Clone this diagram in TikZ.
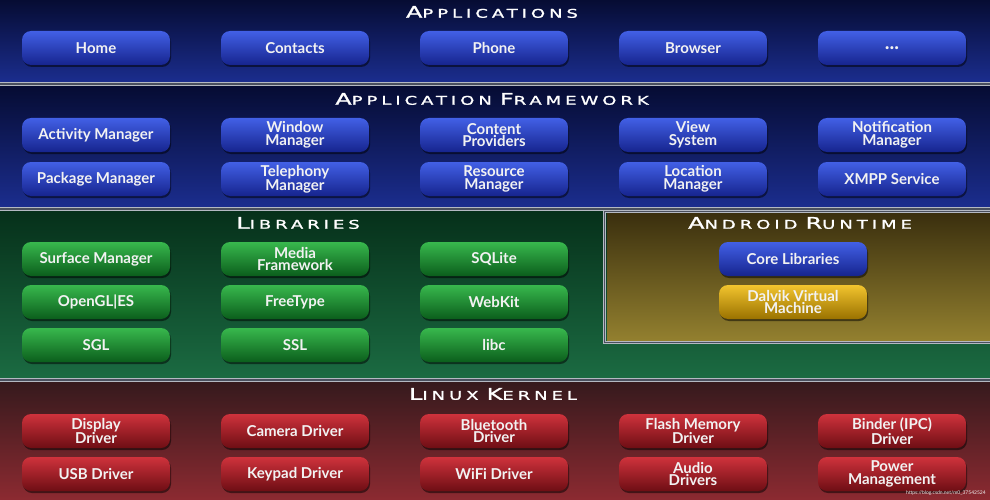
\documentclass[tikz,border=0pt]{standalone}
\usepackage{fontspec}
\setmainfont{Lato}
\newfontfamily\btnfont{Lato Bold}
\newfontfamily\ttlfont{DejaVu Sans}[FakeBold=1.4, FakeStretch=1.5, LetterSpace=33]
\usetikzlibrary{shadows}
\definecolor{appTop}{HTML}{060C33}
\definecolor{appBot}{HTML}{1B2D8E}
\definecolor{libTop}{HTML}{06301A}
\definecolor{libBot}{HTML}{1B6B42}
\definecolor{rtTop}{HTML}{3A2F0E}
\definecolor{rtBot}{HTML}{93802F}
\definecolor{kerTop}{HTML}{361A1D}
\definecolor{kerBot}{HTML}{8C2A31}
\definecolor{sepLight}{HTML}{B4B9C2}
\definecolor{sepDark}{HTML}{4A505E}
\definecolor{bTop}{HTML}{4260E6}
\definecolor{bBot}{HTML}{16248E}
\definecolor{gTop}{HTML}{38B84D}
\definecolor{gBot}{HTML}{0B5E1C}
\definecolor{rTop}{HTML}{CF323C}
\definecolor{rBot}{HTML}{6E0E14}
\definecolor{yTop}{HTML}{F2C42E}
\definecolor{yBot}{HTML}{9A7200}
\definecolor{txt}{HTML}{F2F2F2}
\newcommand{\ttl}[2]{{\fontsize{16}{16}\selectfont #1}{\fontsize{12}{16}\selectfont #2}}
\tikzset{
  btn/.style={minimum width=148pt, minimum height=34pt, inner sep=0pt,
    rounded corners=9pt, align=center, text=txt,
    font=\btnfont\fontsize{15}{12.8}\selectfont,
    drop shadow={shadow xshift=1pt, shadow yshift=-2pt, opacity=0.5, fill=black}},
  blue/.style={btn, top color=bTop, bottom color=bBot},
  green/.style={btn, top color=gTop, bottom color=gBot},
  red/.style={btn, top color=rTop, bottom color=rBot},
  gold/.style={btn, top color=yTop, bottom color=yBot},
  title/.style={text=white, inner sep=0pt, font=\ttlfont},
  sepband/.style={fill=sepDark, draw=sepLight, line width=0.9pt},
}
\begin{document}
\begin{tikzpicture}[x=1pt,y=-1pt]
\useasboundingbox (0,0) rectangle (990,500);
% layers
\shade[top color=appTop, bottom color=appBot] (0,0) rectangle (990,82);
\shade[top color=appTop, bottom color=appBot] (0,86) rectangle (990,207);
\shade[top color=libTop, bottom color=libBot] (0,211) rectangle (990,378);
\shade[top color=kerTop, bottom color=kerBot] (0,382) rectangle (990,500);
\draw[sepband] (-2,82.4) rectangle (992,85.6);
\draw[sepband] (-2,207.4) rectangle (992,210.6);
\draw[sepband] (-2,378.4) rectangle (992,381.6);
% runtime box
\draw[draw=sepLight, line width=3pt] (604.5,211) rectangle (992,342.5);
\draw[draw=sepDark, line width=0.9pt] (604.5,211) rectangle (992,342.5);
\shade[top color=rtTop, bottom color=rtBot] (607,213) rectangle (990,340.5);
% titles
\node[title] (tApp) at (492,12) {\ttl{A}{PPLICATIONS}};
\node[title] (tFw) at (492,99) {\ttl{A}{PPLICATION} \ttl{F}{RAMEWORK}};
\node[title] (tLib) at (298,223) {\ttl{L}{IBRARIES}};
\node[title] (tRt) at (800,223) {\ttl{A}{NDROID} \ttl{R}{UNTIME}};
\node[title] (tKer) at (493,394) {\ttl{L}{INUX} \ttl{K}{ERNEL}};
% applications
\node[blue] (home) at (96,48) {Home};
\node[blue] (contacts) at (295,48) {Contacts};
\node[blue] (phone) at (494,48) {Phone};
\node[blue] (browser) at (693,48) {Browser};
\node[blue, font=\btnfont\fontsize{20}{20}\selectfont] (more) at (892,48) {\raisebox{-4pt}{...}};
% framework
\node[blue] (am) at (96,135) {Activity Manager};
\node[blue] (wm) at (295,135) {Window\\Manager};
\node[blue] (cp) at (494,135) {Content\\Providers};
\node[blue] (vs) at (693,135) {View\\System};
\node[blue] (nm) at (892,135) {Notification\\Manager};
\node[blue] (pm) at (96,179) {Package Manager};
\node[blue] (tm) at (295,179) {Telephony\\Manager};
\node[blue] (rm) at (494,179) {Resource\\Manager};
\node[blue] (lm) at (693,179) {Location\\Manager};
\node[blue] (xmpp) at (892,179) {XMPP Service};
% libraries
\node[green] (sm) at (96,259) {Surface Manager};
\node[green] (mf) at (295,259) {Media\\Framework};
\node[green] (sql) at (494,259) {SQLite};
\node[green] (gl) at (96,302) {OpenGL|ES};
\node[green] (ft) at (295,302) {FreeType};
\node[green] (wk) at (494,302) {WebKit};
\node[green] (sgl) at (96,345) {SGL};
\node[green] (ssl) at (295,345) {SSL};
\node[green] (libc) at (494,345) {libc};
% runtime
\node[blue] (core) at (793,259) {Core Libraries};
\node[gold] (dvm) at (793,302) {Dalvik Virtual\\Machine};
% kernel
\node[red] (dd) at (96,431) {Display\\Driver};
\node[red] (cd) at (295,431) {Camera Driver};
\node[red] (bd) at (494,431) {Bluetooth\\Driver};
\node[red] (fd) at (693,431) {Flash Memory\\Driver};
\node[red] (ipc) at (892,431) {Binder (IPC)\\Driver};
\node[red] (usb) at (96,474) {USB Driver};
\node[red] (kd) at (295,474) {Keypad Driver};
\node[red] (wifi) at (494,474) {WiFi Driver};
\node[red] (ad) at (693,474) {Audio\\Drivers};
\node[red] (pw) at (892,474) {Power\\Management};
\node[text=white!85!gray, font=\fontsize{5}{5}\selectfont, inner sep=0pt] (wmk) at (946,493) {https://blog.csdn.net/m0\_37542524};
\end{tikzpicture}
\end{document}
